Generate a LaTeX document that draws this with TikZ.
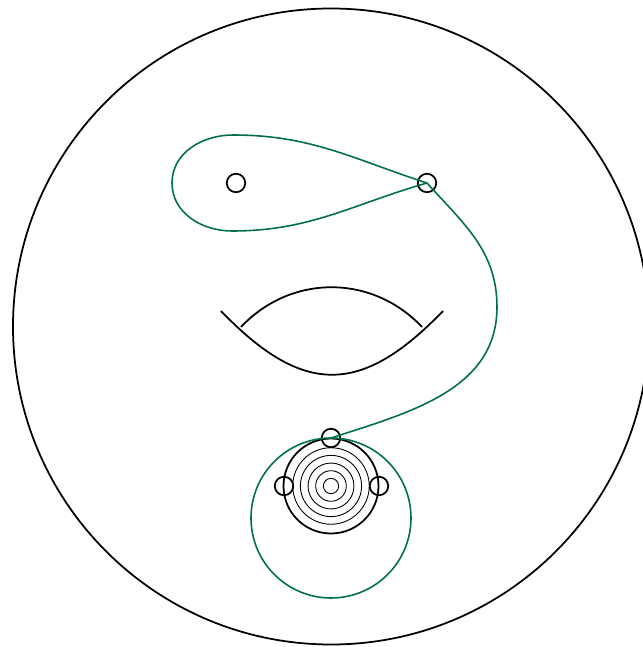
\documentclass[tikz,border=0pt]{standalone}
\usepackage{tikz}
\usetikzlibrary{positioning}

\definecolor{verdecurva}{RGB}{0,112,72}

\tikzset{
  punto/.style={circle, draw=black, line width=1pt, minimum size=0.37cm, inner sep=0pt},
  curva/.style={draw=verdecurva, line width=0.9pt},
  borde/.style={draw=black, line width=1pt}
}

\begin{document}
\begin{tikzpicture}[x=0.02cm, y=0.02cm]
        % Marco de la imagen (el disco grande se sale por la derecha)
        \clip (0,0) rectangle (643,647);

        % Disco exterior
        \draw[borde] (331,320.5) circle[radius=318];

        % Puntos marcados
        \node[punto] (hueco) at (236,464) {};
        \node[punto] (nudo) at (427,464) {};
        \node[punto] (polo) at (331,209) {};
        \node[punto] (izq) at (284,161) {};
        \node[punto] (der) at (379,161) {};

        % Lente central: arco inferior y arco superior cortado
        \draw[borde] (221,336) .. controls (303,251) and (361,251) .. (443,336);
        \draw[borde] (241,320) .. controls (291,373) and (372,373) .. (422,320);

        % Circulos concentricos alrededor del centro inferior
        \coordinate (centro) at (331,161);
        \foreach \r in {1,...,5}
            \draw[black, line width=0.5pt] (centro) circle[radius=7.65*\r];
        \draw[borde] (centro) circle[radius=47.5];

        % Curva verde: lazo alrededor del hueco y bajada hasta el polo
        \draw[curva] (nudo.center) to[out=196,in=0] (232,416)
            to[out=180,in=270] (172,464) to[out=90,in=180] (233,512)
            to[out=0,in=162] (nudo.center) to[out=-48,in=90] (497,340)
            to[out=270,in=18] (polo.center);

        % Circulo verde tangente en el polo
        \draw[curva] (331,129) circle[radius=80];
    \end{tikzpicture}
\end{document}
